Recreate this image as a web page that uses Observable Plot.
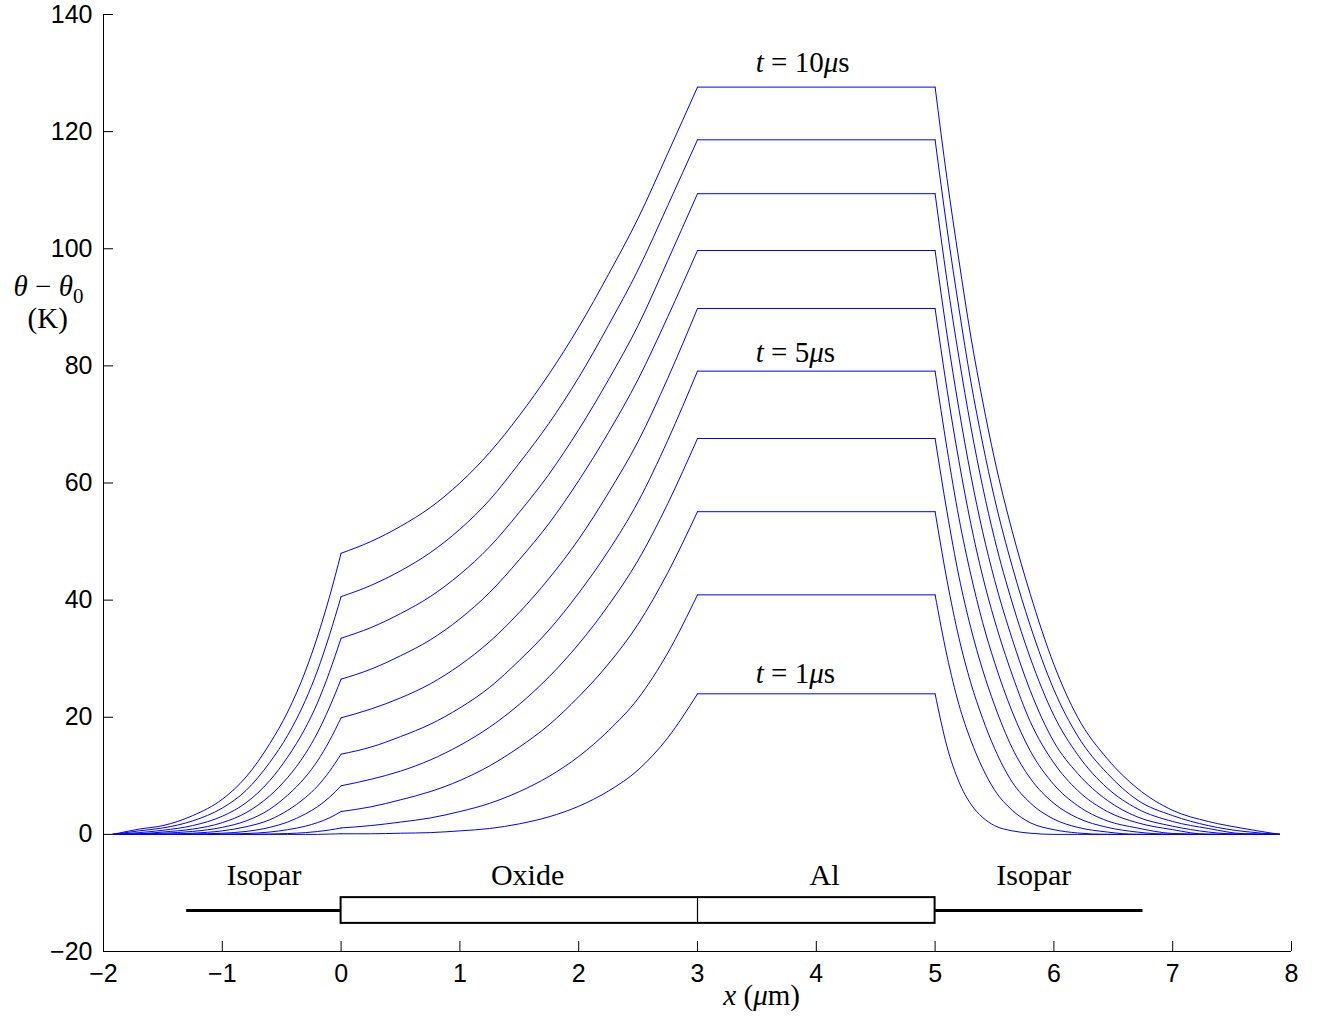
<!DOCTYPE html>
<html><head><meta charset="utf-8">
<script src="https://cdn.jsdelivr.net/npm/d3@7"></script>
<script src="https://cdn.jsdelivr.net/npm/@observablehq/plot@0.6"></script>
<style>
html,body{margin:0;padding:0;background:#fff;}
#chart{width:1327px;height:1017px;}
</style></head><body><div id="chart"></div>
<script>
// ---- data ----
const times = [1,2,3,4,5,6,7,8,9,10];

// left Isopar region
const xLeft = [-1.92,-1.7,-1.5,-1.25,-1.0,-0.8,-0.6,-0.45,-0.3,-0.2,-0.1,0];
const left1  = [0,0,0,0,0,0,0,0,0,0,0.05,0.1];
const left2  = [0,0,0,0,0,0,0.06,0.14,0.3,0.48,0.74,1.1];
const left3  = [0,0,0,0,0.05,0.14,0.4,0.8,1.4,2.0,2.8,3.9];
const left4  = [0,0,0,0.06,0.2,0.5,1.2,2.1,3.5,4.7,6.3,8.3];
const left5  = [0,0,0.03,0.2,0.6,1.3,2.5,4.1,6.3,8.2,10.7,13.7];
const left6  = [0,0.05,0.2,0.5,1.2,2.3,4.3,6.7,9.8,12.5,15.9,19.9];
const left7  = [0,0.1,0.4,0.9,2.0,3.7,6.6,9.7,13.8,17.3,21.6,26.5];
const left8  = [0,0.3,0.7,1.5,3.1,5.4,9.2,13.2,18.2,22.4,27.6,33.5];
const left9  = [0,0.6,1.1,2.3,4.5,7.5,12.3,16.9,22.9,27.9,33.9,40.6];
const left10 = [0,0.9,1.5,3.2,6.0,9.8,15.5,20.9,27.9,33.7,40.4,48.0];

// Oxide region
const xOxide = [0,0.25,0.5,0.75,1,1.25,1.5,1.75,2,2.25,2.5,2.75,3];
const oxide1  = [0.1,0.1,0.2,0.3,0.6,1.0,1.8,3.0,4.8,7.4,11.0,16.5,24.0];
const oxide2  = [1.1,1.5,2.1,2.8,3.9,5.3,7.3,9.9,13.3,17.7,23.2,31.0,40.9];
const oxide3  = [3.9,4.7,5.9,7.3,9.2,11.7,14.9,18.7,23.5,29.1,35.9,44.7,55.1];
const oxide4  = [8.3,9.4,10.8,12.7,15.2,18.3,22.2,26.9,32.5,39.1,46.8,56.5,67.6];
const oxide5  = [13.7,14.9,16.7,18.8,21.6,25.1,29.7,34.9,41.2,48.4,56.8,67.3,79.1];
const oxide6  = [19.9,21.4,23.3,25.7,28.9,32.9,37.9,43.7,50.4,58.3,67.1,77.9,89.8];
const oxide7  = [26.5,28.2,30.5,33.2,36.8,41.3,46.9,53.1,60.4,68.6,77.7,88.4,99.7];
const oxide8  = [33.5,35.3,37.7,40.6,44.4,49.1,55.0,61.5,69.1,77.6,86.9,98.0,109.4];
const oxide9  = [40.6,42.5,45.0,48.1,52.1,57.1,63.4,70.2,78.0,86.9,96.4,107.4,118.6];
const oxide10 = [48.0,50.0,52.6,55.8,60.0,65.2,71.5,78.6,86.6,95.6,105.2,116.3,127.6];

// Al region (plateau)
const xAl = [3,5];
const plateau = [24.0,40.9,55.1,67.6,79.1,89.8,99.7,109.4,118.6,127.6];

// right Isopar region
const xRight = [5,5.1,5.2,5.3,5.4,5.5,5.65,5.8,6.0,6.2,6.45,6.7,7.0,7.3,7.6,7.9];
const right1  = [24.0,15.0,9.0,5.2,2.9,1.5,0.6,0.2,0,0,0,0,0,0,0,0];
const right2  = [40.9,30.5,22.2,16.1,11.3,7.6,4.1,2.0,0.8,0.24,0,0,0,0,0,0];
const right3  = [55.1,43.4,33.6,25.9,19.8,14.7,8.9,5.4,2.6,1.2,0.4,0,0,0,0,0];
const right4  = [67.6,55.1,44.1,35.3,28.1,22.1,14.7,9.6,5.3,2.8,1.2,0.4,0,0,0,0];
const right5  = [79.1,65.9,54.1,44.4,36.2,29.4,20.9,14.3,8.5,4.9,2.3,1.1,0.15,0,0,0];
const right6  = [89.8,76.0,63.8,53.1,44.1,36.6,27.2,19.3,12.2,7.5,3.9,2.0,0.8,0,0,0];
const right7  = [99.7,85.4,72.7,61.4,51.7,43.5,33.3,24.6,15.8,10.4,5.8,3.0,1.4,0.4,0,0];
const right8  = [109.4,94.6,81.5,69.7,59.4,50.5,39.5,30.2,20.3,13.6,7.9,4.4,2.2,1.0,0.1,0];
const right9  = [118.6,103.5,89.9,77.4,66.8,57.4,45.7,35.7,24.7,16.8,10.4,5.9,3.2,1.5,0.5,0];
const right10 = [127.6,112.0,98.1,85.1,74.0,64.1,51.7,41.1,29.0,20.0,12.9,7.9,4.1,2.2,1.0,0];

// axes ticks
const xTicks = [-2,-1,0,1,2,3,4,5,6,7,8];
const yTicks = [-20,0,20,40,60,80,100,120,140];

// time labels
const tLabelTimes = [10,5,1];
const tLabelText = ["t = 10µs","t = 5µs","t = 1µs"];
const tLabelX = [3.49,3.49,3.49];
const tLabelY = [131.8,82.3,27.5];

// layer schematic
const layerNames = ["Isopar","Oxide","Al","Isopar"];
const layerStart = [-1.3,0,3,5];
const layerEnd = [0,3,5,6.75];
const layerLabelX = [-0.65,1.57,4.07,5.83];
const layerLabelY = -7.0;
const stackY = -13;
const boxTop = -10.8, boxBottom = -15.2;

// ---- build tables ----
const leftS = [left1,left2,left3,left4,left5,left6,left7,left8,left9,left10];
const oxideS = [oxide1,oxide2,oxide3,oxide4,oxide5,oxide6,oxide7,oxide8,oxide9,oxide10];
const rightS = [right1,right2,right3,right4,right5,right6,right7,right8,right9,right10];
const rows = [];
times.forEach((t,i) => {
  xLeft.forEach((x,j) => rows.push({t, seg:"L", x, v: leftS[i][j]}));
  xOxide.forEach((x,j) => rows.push({t, seg:"O", x, v: oxideS[i][j]}));
  xAl.forEach((x) => rows.push({t, seg:"A", x, v: plateau[i]}));
  xRight.forEach((x,j) => rows.push({t, seg:"R", x, v: rightS[i][j]}));
});
const tLabels = tLabelTimes.map((t,i)=>({t, text:tLabelText[i], x:tLabelX[i], y:tLabelY[i]}));
const layers = layerNames.map((n,i)=>({name:n, x1:layerStart[i], x2:layerEnd[i], lx:layerLabelX[i]}));
const isoparLayers = layers.filter(d=>d.name==="Isopar");
const solidLayers = layers.filter(d=>d.name!=="Isopar");

const sans = "'Liberation Sans', Arial, Helvetica, sans-serif";
const serif = "'Liberation Serif', 'Times New Roman', serif";
const fmt = d => d < 0 ? "\u2212" + Math.abs(d) : String(d);

const chart = Plot.plot({
  width: 1327, height: 1017,
  marginLeft: 103, marginRight: 36, marginTop: 14, marginBottom: 66,
  x: {domain: [-2, 8]},
  y: {domain: [-20, 140]},
  style: {fontFamily: sans, background: "#fff", color: "#000"},
  marks: [
    Plot.ruleX([-2], {stroke: "#000", strokeWidth: 1}),
    Plot.ruleY([-20], {stroke: "#000", strokeWidth: 1}),
    Plot.tickX(xTicks, {x: d => d, insetTop: 927, stroke: "#000"}),
    Plot.tickY(yTicks, {y: d => d, insetRight: 1178, stroke: "#000"}),
    Plot.axisX(xTicks, {tickSize: 0, tickPadding: 13, fontSize: 25, tickFormat: fmt, label: null}),
    Plot.axisY(yTicks, {tickSize: 0, tickPadding: 11, fontSize: 25, tickFormat: fmt, label: null}),
    Plot.line(rows, {x: "x", y: "v", z: d => d.t + d.seg, stroke: "#0000ff", strokeWidth: 1, curve: "monotone-x"}),
    // schematic of layers
    Plot.ruleY(isoparLayers, {y: stackY, x1: "x1", x2: "x2", stroke: "#000", strokeWidth: 2.8}),
    Plot.rect([{x1: solidLayers[0].x1, x2: solidLayers[solidLayers.length-1].x2}], {x1: "x1", x2: "x2", y1: boxBottom, y2: boxTop, fill: "none", stroke: "#000", strokeWidth: 2}),
    Plot.ruleX(solidLayers.slice(1), {x: "x1", y1: boxBottom, y2: boxTop, stroke: "#000", strokeWidth: 1.2}),
    Plot.text(layers, {x: "lx", y: layerLabelY, text: "name", fontSize: 30, fontFamily: serif, fill: "#000"}),
    // time labels
    Plot.text(tLabels, {x: "x", y: "y", text: "text", textAnchor: "start", fontSize: 29, fontFamily: serif, fill: "#000"}),
    // axis titles
    Plot.text(["YLAB1"], {x: -2.463, y: 93.6, text: d => d, fontSize: 29, fontFamily: serif, fill: "#000"}),
    Plot.text(["(K)"], {x: -2.47, y: 88.0, text: d => d, fontSize: 29, fontFamily: serif, fill: "#000"}),
    Plot.text(["XLAB"], {x: 3.54, y: -27.6, text: d => d, fontSize: 29, fontFamily: serif, fill: "#000"})
  ]
});
document.getElementById("chart").appendChild(chart);

// rich text (italics / subscripts) for math-style labels
const I = s => `<tspan font-style="italic">${s}</tspan>`;
const rich = {
  "t = 10µs": `${I("t")} = 10${I("\u03bc")}s`,
  "t = 5µs": `${I("t")} = 5${I("\u03bc")}s`,
  "t = 1µs": `${I("t")} = 1${I("\u03bc")}s`,
  "YLAB1": `${I("\u03b8")} \u2212 ${I("\u03b8")}<tspan dy="7" font-size="21">0</tspan>`,
  "XLAB": `${I("x")} (${I("\u03bc")}m)`
};
d3.select(chart).selectAll("text").each(function() {
  const s = this.textContent;
  if (rich[s]) this.innerHTML = rich[s];
});
</script></body></html>
